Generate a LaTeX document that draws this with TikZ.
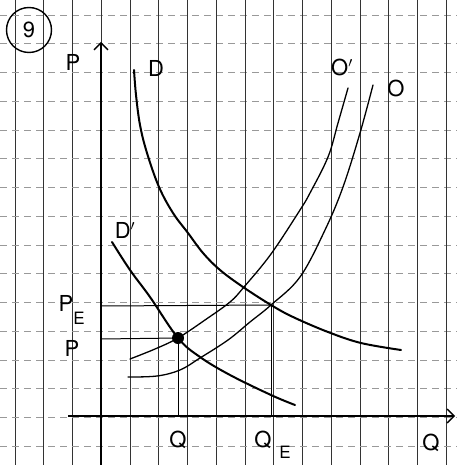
\documentclass[tikz,border=0pt]{standalone}
\usepackage{fontspec}
\setmainfont{TeX Gyre Heros}
\usetikzlibrary{arrows.meta}
\begin{document}
\begin{tikzpicture}[x=1pt,y=-1pt,
  vline/.style={black!80,line width=0.9pt},
  hline/.style={black!40,line width=0.7pt,dash pattern=on 7pt off 5pt},
  axisline/.style={line width=1.4pt,-{Straight Barb[length=7pt,width=14pt,line width=1.4pt]}},
  dcurve/.style={line width=2pt,line cap=round},
  scurve/.style={line width=1.3pt,line cap=round},
  guide/.style={line width=1pt},
  lab/.style={font=\fontsize{22}{22}\selectfont,inner sep=0pt},
  sub/.style={font=\fontsize{17}{17}\selectfont,inner sep=0pt}]
\useasboundingbox (0,0) rectangle (457,465);
\fill[white] (0,0) rectangle (457,465);
\foreach \k in {0,...,15} {
  \draw[vline] ({15+28.75*\k},0) -- ({15+28.75*\k},465);
  \draw[hline] (0,{15+28.75*\k}) -- (457,{15+28.75*\k});
}
% axes
\coordinate (ybot) at (101,465);
\coordinate (ytop) at (101,42);
\coordinate (xleft) at (68,416);
\coordinate (xright) at (455,416);
\draw[axisline] (ybot) -- (ytop);
\draw[axisline] (xleft) -- (xright);
% equilibrium points
\coordinate (E1) at (178,338);
\coordinate (E2) at (271,305);
\coordinate (E1y) at (101,339);
\coordinate (E2y) at (101,306);
\coordinate (E1x) at (178,416);
\coordinate (E2x) at (271,416);
\draw[guide] (E2y) -- (E2);
\draw[guide] (E1y) -- (E1);
\draw[guide] (E1) -- (E1x);
\draw[guide] (E2) -- (E2x);
% curves
\draw[dcurve] plot[smooth,tension=0.6] coordinates {(134,70) (136,95) (140,125) (147,153) (159,187) (173,213) (188,233) (203,253) (220,270) (243,287) (271,305) (293,317) (328,332) (361,343) (401,350)};
\draw[dcurve] plot[smooth,tension=0.6] coordinates {(112,242) (130,270) (150,297) (178,338) (200,357) (230,375) (271,395) (295,405)};
\draw[scurve] plot[smooth,tension=0.6] coordinates {(130,359) (155,349) (178,338) (205,320) (230,302) (244,287) (271,254) (300,210) (310,193) (328,157) (338,123) (348,88)};
\draw[scurve] plot[smooth,tension=0.6] coordinates {(128,377) (157,376) (180,370) (200,358) (228,340) (250,322) (271,305) (300,277) (325,230) (343,187) (360,133) (373,85)};
\fill (E1) circle (6);
% labels
\node[draw,circle,line width=1.4pt,minimum size=45pt,inner sep=0pt,lab] (num) at (29,30) {9};
\node[lab] (pax) at (73,62) {P};
\node[lab] (dlab) at (156,68) {D};
\node[lab] (d1lab) at (125,230) {D$'$};
\node[lab] (o1lab) at (342,67) {O$'$};
\node[lab] (olab) at (396,88) {O};
\node[lab] (pe) at (66,303) {P};
\node[sub] (pesub) at (79,318) {E};
\node[lab] (plab) at (72,348) {P};
\node[lab] (qlab) at (178,440) {Q};
\node[lab] (qe) at (263,440) {Q};
\node[sub] (qesub) at (285,452) {E};
\node[lab] (qax) at (431,443) {Q};
\end{tikzpicture}
\end{document}
